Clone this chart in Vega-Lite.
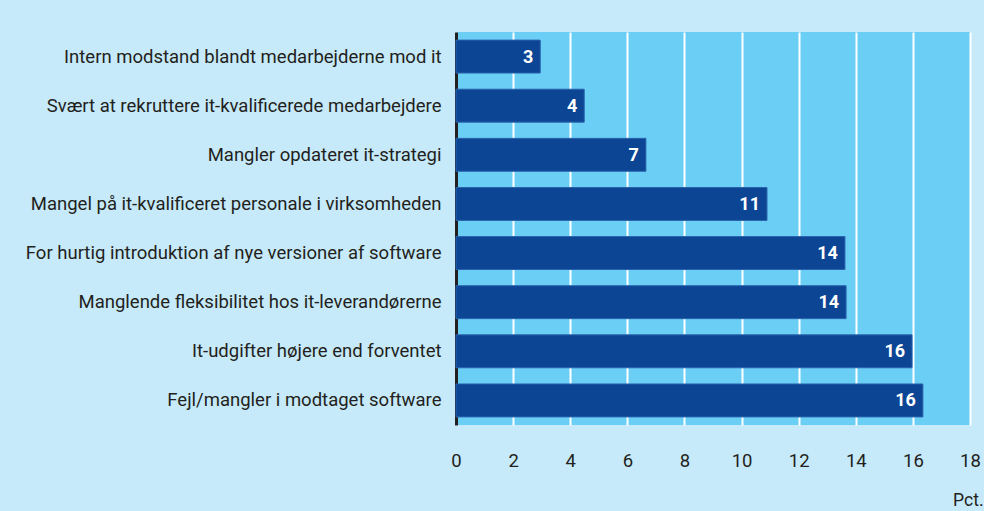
{
  "$schema": "https://vega.github.io/schema/vega-lite/v6.json",
  "autosize": {"type": "none"},
  "width": 514,
  "height": 393,
  "padding": {"left": 456, "top": 32, "right": 14, "bottom": 86},
  "background": "#c6eaf9",
  "config": {
    "view": {"fill": "#6bcff5", "stroke": null},
    "font": "Roboto"
  },
  "data": {
    "values": [
      {"cat": "Intern modstand blandt medarbejderne mod it", "value": 2.95, "label": "3"},
      {"cat": "Svært at rekruttere it-kvalificerede medarbejdere", "value": 4.49, "label": "4"},
      {"cat": "Mangler opdateret it-strategi", "value": 6.65, "label": "7"},
      {"cat": "Mangel på it-kvalificeret personale i virksomheden", "value": 10.89, "label": "11"},
      {"cat": "For hurtig introduktion af nye versioner af software", "value": 13.62, "label": "14"},
      {"cat": "Manglende fleksibilitet hos it-leverandørerne", "value": 13.66, "label": "14"},
      {"cat": "It-udgifter højere end forventet", "value": 15.97, "label": "16"},
      {"cat": "Fejl/mangler i modtaget software", "value": 16.35, "label": "16"}
    ]
  },
  "encoding": {
    "y": {
      "field": "cat", "type": "nominal", "sort": null,
      "scale": {"paddingInner": 0.33, "paddingOuter": 0.165},
      "axis": {
        "title": null, "ticks": false, "labelPadding": 15,
        "labelFontSize": 18.5, "labelColor": "#231f20", "labelLimit": 460,
        "domainColor": "#231f20", "domainWidth": 3
      }
    },
    "x": {
      "field": "value", "type": "quantitative",
      "scale": {"domain": [0, 18], "nice": false},
      "axis": {
        "values": [0, 2, 4, 6, 8, 10, 12, 14, 16, 18],
        "domain": false, "ticks": false,
        "grid": true, "gridColor": "white", "gridWidth": 2, "gridOpacity": 1,
        "labelPadding": 26, "labelFontSize": 18.5, "labelColor": "#231f20",
        "labelFlush": false,
        "title": "Pct.", "titleX": 527, "titleY": 80, "titleAlign": "right",
        "titleBaseline": "alphabetic", "titleFontWeight": "normal",
        "titleFontSize": 17.5, "titleColor": "#231f20"
      }
    }
  },
  "layer": [
    {"mark": {"type": "bar", "color": "#0b4594", "stroke": "#2a62ad", "strokeWidth": 1}},
    {
      "mark": {"type": "text", "align": "right", "dx": -7, "baseline": "middle", "color": "white", "fontWeight": "bold", "fontSize": 18, "dy": 1},
      "encoding": {"text": {"field": "label"}}
    }
  ]
}
